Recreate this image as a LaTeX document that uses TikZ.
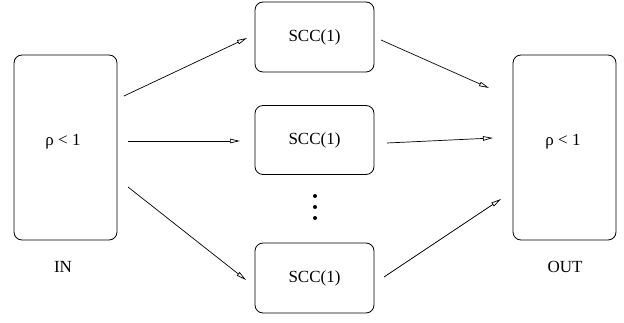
\documentclass[tikz,border=0pt]{standalone}
\usepackage{fontspec}
\setmainfont{Liberation Serif}
\usetikzlibrary{arrows.meta}
\begin{document}
\begin{tikzpicture}[x=1pt,y=-1pt,
  box/.style={draw,rounded corners=8pt,line width=0.8pt,inner sep=0pt},
  lbl/.style={font=\fontsize{17}{19}\selectfont},
  arr/.style={line width=0.7pt,-{Triangle[open,length=10pt,width=4.5pt]}}]
\useasboundingbox (0,0) rectangle (624,323);
\node[box,minimum width=103pt,minimum height=185pt] (in) at (65.5,147.5) {};
\node[box,minimum width=103pt,minimum height=185pt] (out) at (564.5,147.5) {};
\node[lbl] (int) at (63,142) {ρ < 1};
\node[lbl] (outt) at (563,142) {ρ < 1};
\node[lbl] (inl) at (63,267) {IN};
\node[lbl] (outl) at (565,267) {OUT};
\node[box,minimum width=119pt,minimum height=70pt,lbl] (s1) at (314.5,37) {SCC(1)};
\node[box,minimum width=119pt,minimum height=69pt,lbl] (s2) at (314.5,140) {SCC(1)};
\node[box,minimum width=119pt,minimum height=70pt,lbl] (s3) at (314.5,278) {SCC(1)};
\node[circle,fill,inner sep=0pt,minimum size=4pt] (d1) at (315,196) {};
\node[circle,fill,inner sep=0pt,minimum size=4pt] (d2) at (315,207) {};
\node[circle,fill,inner sep=0pt,minimum size=4pt] (d3) at (315,218) {};
\coordinate (a1) at (124,96);
\coordinate (a2) at (128,141);
\coordinate (a3) at (128,187);
\coordinate (b1) at (381,40);
\coordinate (b2) at (387,143);
\coordinate (b3) at (384,277);
\coordinate (c1) at (489,88);
\coordinate (c2) at (493,138);
\coordinate (c3) at (501,199);
\coordinate (e1) at (247,38);
\coordinate (e2) at (240,141);
\coordinate (e3) at (246,280);
\draw[arr] (a1) -- (e1);
\draw[arr] (a2) -- (e2);
\draw[arr] (a3) -- (e3);
\draw[arr] (b1) -- (c1);
\draw[arr] (b2) -- (c2);
\draw[arr] (b3) -- (c3);
\end{tikzpicture}
\end{document}
